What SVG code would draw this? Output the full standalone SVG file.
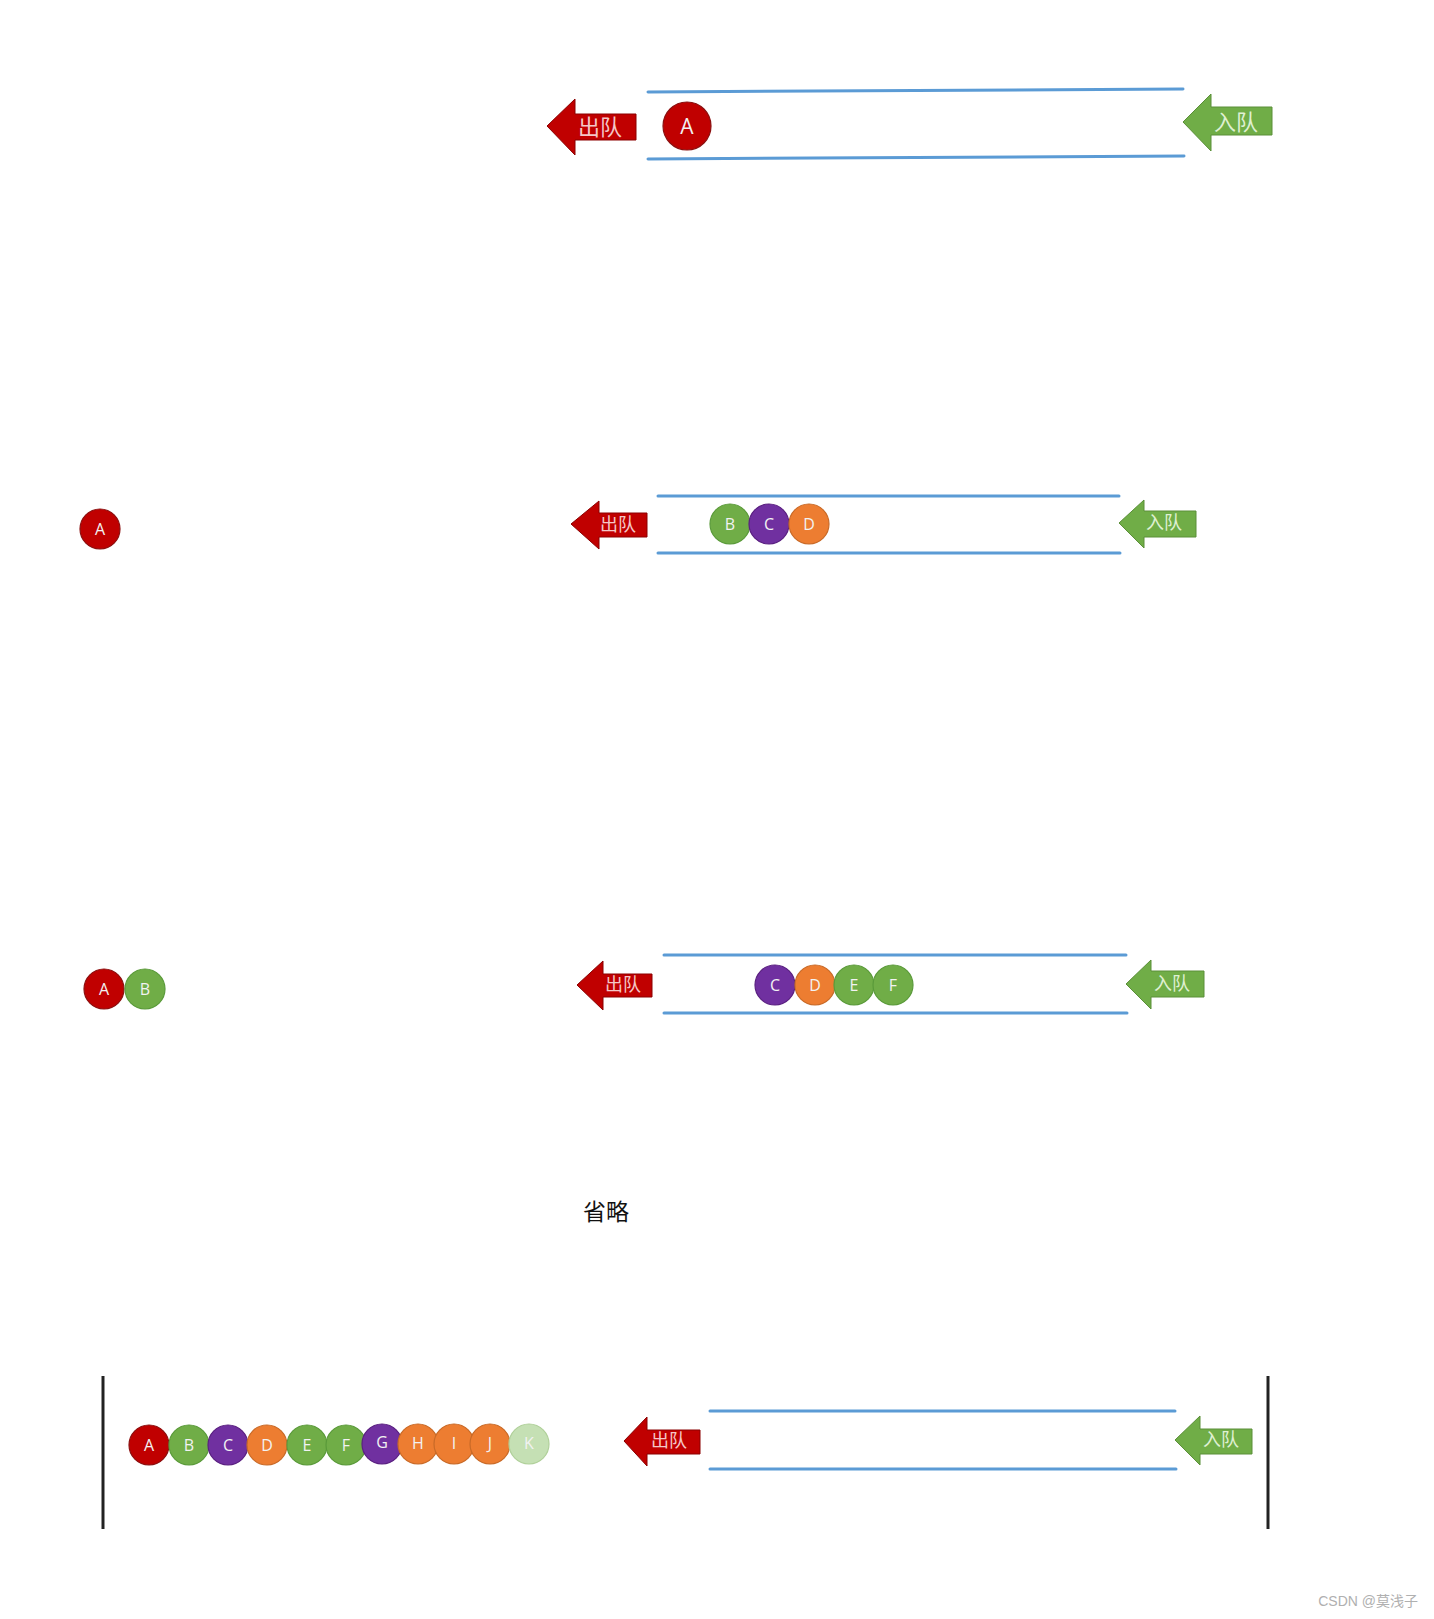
<svg xmlns="http://www.w3.org/2000/svg" width="1434" height="1619" viewBox="0 0 1434 1619">
<style>
.bg{fill:#ffffff}
.wall{stroke:#5b9bd5;stroke-width:3;stroke-linecap:round;fill:none}
.out{fill:#c00000;stroke:#8b0000;stroke-width:1}
.in{fill:#70ad47;stroke:#5a8f38;stroke-width:1}
.atxt{font-family:"Liberation Serif","Noto Sans CJK SC",serif;text-anchor:middle;dominant-baseline:central}
.otx{fill:#f4c7c7}
.itx{fill:#dff0d2}
.ball{stroke-width:1.2}
.r{fill:#c00000;stroke:#8b1010}
.g{fill:#70ad47;stroke:#5a9a3a}
.p{fill:#7030a0;stroke:#5a2080}
.o{fill:#ed7d31;stroke:#c86a28}
.lg{fill:#c5e0b4;stroke:#b0d09a}
.lbl{font-family:"Open Sans","Liberation Sans",sans-serif;fill:#f2f2f2;text-anchor:middle;dominant-baseline:central;font-size:16px}
.bar{stroke:#222;stroke-width:3}
</style>
<rect class="bg" x="0" y="0" width="1434" height="1619"/>

<g id="walls">
  <line class="wall" x1="648" y1="92" x2="1183" y2="89"/>
  <line class="wall" x1="648" y1="159" x2="1184" y2="156"/>
  <line class="wall" x1="658" y1="496" x2="1119" y2="496"/>
  <line class="wall" x1="658" y1="553" x2="1120" y2="553"/>
  <line class="wall" x1="664" y1="955" x2="1126" y2="955"/>
  <line class="wall" x1="664" y1="1013" x2="1127" y2="1013"/>
  <line class="wall" x1="710" y1="1411" x2="1175" y2="1411"/>
  <line class="wall" x1="710" y1="1469" x2="1176" y2="1469"/>
  <line class="bar" x1="103" y1="1376" x2="103" y2="1529"/>
  <line class="bar" x1="1268" y1="1376" x2="1268" y2="1529"/>
</g>

<!-- Section 1 -->
<g id="out1">
  <path class="out" d="M547,126 L575,99 L575,114 L636,114 L636,140 L575,140 L575,155 Z"/>
  <text class="atxt otx" x="600" y="127" font-size="22">出队</text>
</g>
<g id="in1">
  <path class="in" d="M1183,122 L1211,94 L1211,107 L1272,107 L1272,135 L1211,135 L1211,151 Z"/>
  <text class="atxt itx" x="1236" y="122" font-size="22">入队</text>
</g>
<g id="s1A"><circle class="ball r" cx="687" cy="126" r="24"/><text class="lbl" x="687" y="126" font-size="21" style="font-size:21px">A</text></g>

<!-- Section 2 -->
<g id="s2outA"><circle class="ball r" cx="100" cy="529" r="20"/><text class="lbl" x="100" y="529">A</text></g>
<g id="out2">
  <path class="out" d="M571,524 L599,501 L599,513 L647,513 L647,537 L599,537 L599,549 Z"/>
  <text class="atxt otx" x="618" y="525" font-size="18">出队</text>
</g>
<g id="s2B"><circle class="ball g" cx="730" cy="524" r="20"/><text class="lbl" x="730" y="524">B</text></g>
<g id="s2C"><circle class="ball p" cx="769" cy="524" r="20"/><text class="lbl" x="769" y="524">C</text></g>
<g id="s2D"><circle class="ball o" cx="809" cy="524" r="20"/><text class="lbl" x="809" y="524">D</text></g>
<g id="in2">
  <path class="in" d="M1119,523 L1144,500 L1144,511 L1196,511 L1196,537 L1144,537 L1144,548 Z"/>
  <text class="atxt itx" x="1164" y="523" font-size="18">入队</text>
</g>

<!-- Section 3 -->
<g id="s3outA"><circle class="ball r" cx="104" cy="989" r="20"/><text class="lbl" x="104" y="989">A</text></g>
<g id="s3outB"><circle class="ball g" cx="145" cy="989" r="20"/><text class="lbl" x="145" y="989">B</text></g>
<g id="out3">
  <path class="out" d="M577,985 L603,961 L603,974 L652,974 L652,997 L603,997 L603,1010 Z"/>
  <text class="atxt otx" x="623" y="985" font-size="18">出队</text>
</g>
<g id="s3C"><circle class="ball p" cx="775" cy="985" r="20"/><text class="lbl" x="775" y="985">C</text></g>
<g id="s3D"><circle class="ball o" cx="815" cy="985" r="20"/><text class="lbl" x="815" y="985">D</text></g>
<g id="s3E"><circle class="ball g" cx="854" cy="985" r="20"/><text class="lbl" x="854" y="985">E</text></g>
<g id="s3F"><circle class="ball g" cx="893" cy="985" r="20"/><text class="lbl" x="893" y="985">F</text></g>
<g id="in3">
  <path class="in" d="M1126,984 L1151,960 L1151,971 L1204,971 L1204,997 L1151,997 L1151,1009 Z"/>
  <text class="atxt itx" x="1172" y="984" font-size="18">入队</text>
</g>

<g id="omit"><text x="606" y="1210" font-family="Noto Sans CJK SC, sans-serif" font-size="23" fill="#111" text-anchor="middle" dominant-baseline="central">省略</text></g>

<!-- Section 4 -->
<g id="s4A"><circle class="ball r" cx="149" cy="1445" r="20"/><text class="lbl" x="149" y="1445">A</text></g>
<g id="s4B"><circle class="ball g" cx="189" cy="1445" r="20"/><text class="lbl" x="189" y="1445">B</text></g>
<g id="s4C"><circle class="ball p" cx="228" cy="1445" r="20"/><text class="lbl" x="228" y="1445">C</text></g>
<g id="s4D"><circle class="ball o" cx="267" cy="1445" r="20"/><text class="lbl" x="267" y="1445">D</text></g>
<g id="s4E"><circle class="ball g" cx="307" cy="1445" r="20"/><text class="lbl" x="307" y="1445">E</text></g>
<g id="s4F"><circle class="ball g" cx="346" cy="1445" r="20"/><text class="lbl" x="346" y="1445">F</text></g>
<g id="s4G"><circle class="ball p" cx="382" cy="1444" r="20"/><text class="lbl" x="382" y="1442">G</text></g>
<g id="s4H"><circle class="ball o" cx="418" cy="1444" r="20"/><text class="lbl" x="418" y="1443">H</text></g>
<g id="s4I"><circle class="ball o" cx="454" cy="1444" r="20"/><text class="lbl" x="454" y="1443">I</text></g>
<g id="s4J"><circle class="ball o" cx="490" cy="1444" r="20"/><text class="lbl" x="490" y="1443">J</text></g>
<g id="s4K"><circle class="ball lg" cx="529" cy="1444" r="20"/><text class="lbl" x="529" y="1443">K</text></g>
<g id="out4">
  <path class="out" d="M624,1441 L647,1417 L647,1430 L700,1430 L700,1454 L647,1454 L647,1466 Z"/>
  <text class="atxt otx" x="669" y="1441" font-size="18">出队</text>
</g>
<g id="in4">
  <path class="in" d="M1175,1440 L1200,1416 L1200,1429 L1252,1429 L1252,1454 L1200,1454 L1200,1465 Z"/>
  <text class="atxt itx" x="1221" y="1440" font-size="18">入队</text>
</g>

<g id="watermark"><text x="1418" y="1601" font-family="Liberation Sans, Noto Sans CJK SC, sans-serif" font-size="14" fill="#b0b0b0" text-anchor="end" dominant-baseline="central">CSDN @莫浅子</text></g>
</svg>
